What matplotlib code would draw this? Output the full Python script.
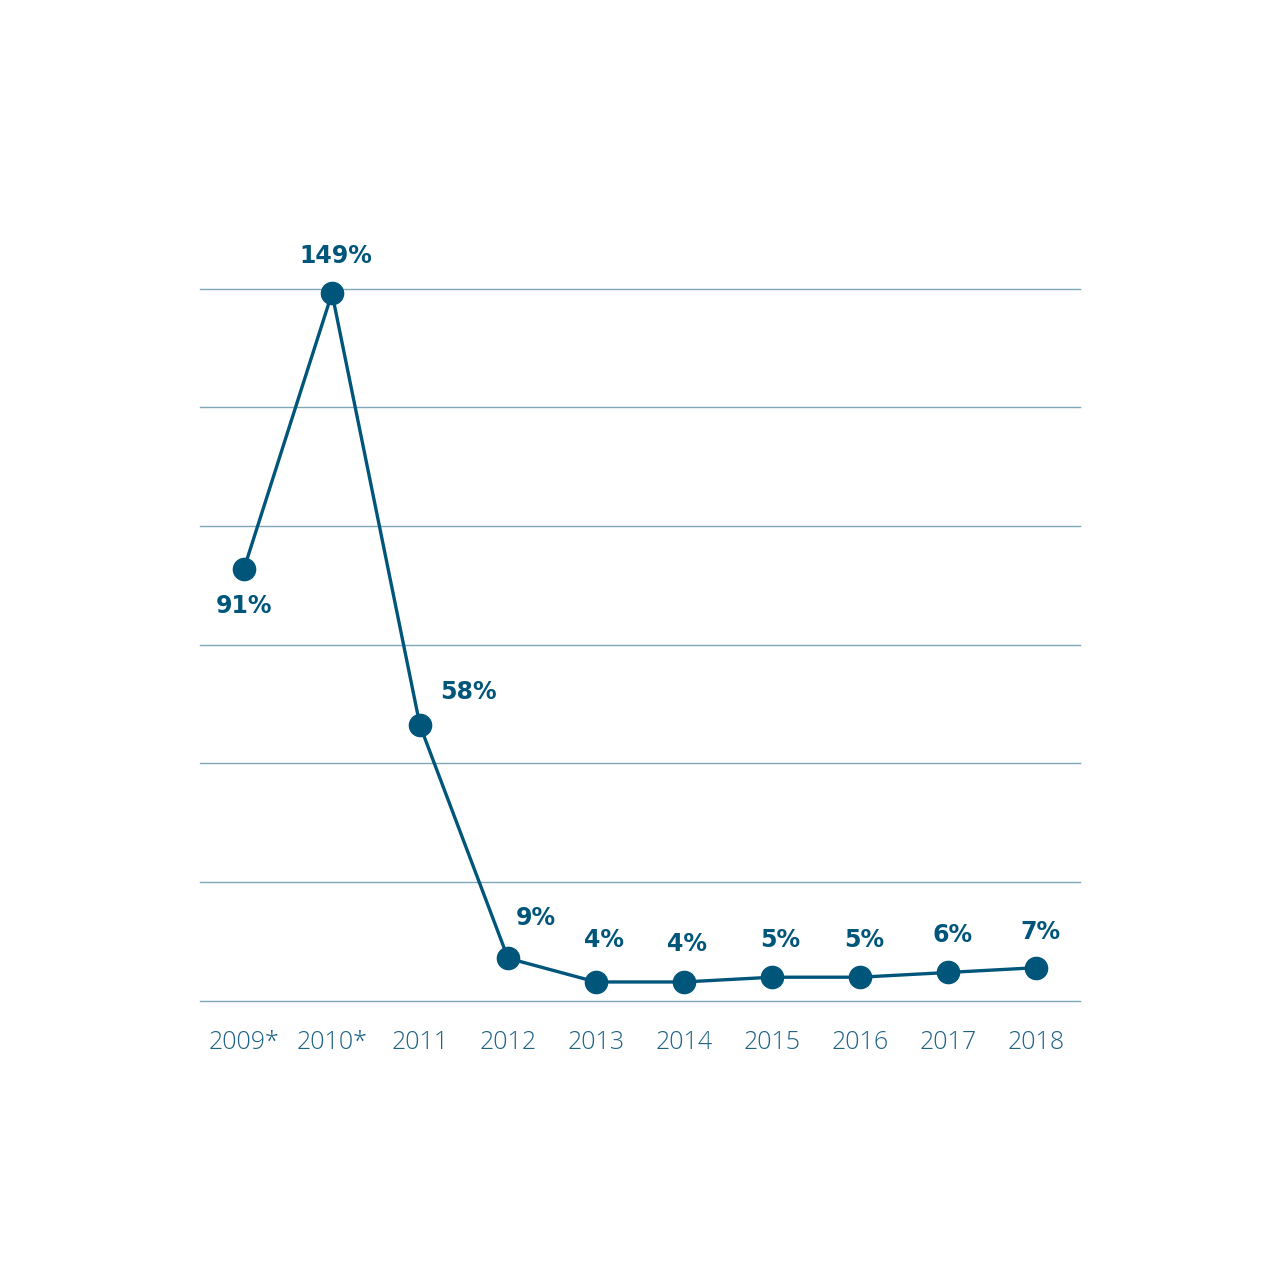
import matplotlib
matplotlib.use("Agg")
import matplotlib.pyplot as plt

years = ["2009*", "2010*", "2011", "2012", "2013", "2014", "2015", "2016", "2017", "2018"]
values = [91, 149, 58, 9, 4, 4, 5, 5, 6, 7]
labels = ["91%", "149%", "58%", "9%", "4%", "4%", "5%", "5%", "6%", "7%"]
grid_levels = [0, 25, 50, 75, 100, 125, 150]

# label offsets in points (dx, dy)
offsets = [(0, -27), (3, 27), (35, 24), (20, 29), (6, 30), (2, 27), (6, 27), (3, 27), (3, 27), (3, 26)]

line_color = "#00567A"
grid_color = "#7FA6B9"
tick_color = "#1E6385"

fig = plt.figure(figsize=(12.8, 12.8), dpi=100)
ax = fig.add_axes([0.15625, 0.2180, 0.6875, 0.5566])

for g in grid_levels:
    ax.axhline(g, color=grid_color, lw=1.0, zorder=1, clip_on=False)

x = list(range(len(years)))
ax.plot(x, values, color=line_color, lw=2.4, zorder=3, clip_on=False,
        marker="o", markersize=16, markerfacecolor=line_color, markeredgecolor=line_color)

for xi, v, lab, (dx, dy) in zip(x, values, labels, offsets):
    ax.annotate(lab, (xi, v), xytext=(dx, dy), textcoords="offset points",
                ha="center", va="center", fontsize=17, fontweight="bold",
                family=["DejaVu Sans"], color=line_color)

ax.set_xlim(-0.5, 9.5)
ax.set_ylim(0, 150)
ax.set_xticks(x)
ax.set_xticklabels(years)
ax.set_yticks([])
ax.tick_params(axis="x", length=0, pad=21, labelsize=18, colors=tick_color)
for t in ax.get_xticklabels():
    t.set_family(["Open Sans", "DejaVu Sans"])
    t.set_fontweight("light")
for s in ax.spines.values():
    s.set_visible(False)

fig.savefig("out.png", dpi=100, facecolor="white")
